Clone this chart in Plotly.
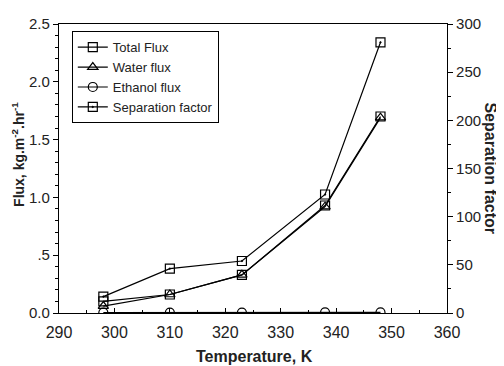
import plotly.graph_objects as go

temperature = [298, 310, 323, 338, 348]
total_flux = [0.10, 0.16, 0.33, 0.93, 1.70]
water_flux = [0.06, 0.16, 0.33, 0.92, 1.69]
ethanol_flux = [0.004, 0.003, 0.004, 0.005, 0.006]
separation_factor = [17, 46, 54, 123, 281]

x_ticks = [290, 300, 310, 320, 330, 340, 350, 360]
y_ticks = [0, 0.5, 1.0, 1.5, 2.0, 2.5]
y_ticklabels = ["0.0", ".5", "1.0", "1.5", "2.0", "2.5"]
y2_ticks = [0, 50, 100, 150, 200, 250, 300]

FONT = "Liberation Sans, Arial, sans-serif"
TXT = "#222"
line = dict(color="black", width=1.2)

fig = go.Figure()
fig.add_trace(go.Scatter(x=temperature, y=total_flux, name="Total Flux", mode="lines+markers",
                         line=line, marker=dict(symbol="square-open", size=9, color="black", line=dict(width=1.2))))
fig.add_trace(go.Scatter(x=temperature, y=water_flux, name="Water flux", mode="lines+markers",
                         line=line, marker=dict(symbol="triangle-up-open", size=9, color="black", line=dict(width=1.2))))
fig.add_trace(go.Scatter(x=temperature, y=ethanol_flux, name="Ethanol flux", mode="lines+markers",
                         line=line, marker=dict(symbol="circle-open", size=9, color="black", line=dict(width=1.2))))
fig.add_trace(go.Scatter(x=temperature, y=separation_factor, name="Separation factor", mode="lines+markers",
                         yaxis="y2", line=line,
                         marker=dict(symbol="square-open-dot", size=9, color="black", line=dict(width=1.2))))

fig.update_layout(
    width=504, height=366,
    margin=dict(l=51, r=65, t=16, b=61, autoexpand=False),
    paper_bgcolor="white", plot_bgcolor="white",
    font=dict(family=FONT, color=TXT, size=15),
    showlegend=True,
    legend=dict(x=0.033, y=0.975, xanchor="left", yanchor="top",
                bordercolor="black", borderwidth=1, bgcolor="white",
                font=dict(size=13), tracegroupgap=0, itemwidth=30),
    xaxis=dict(range=[290, 360], tickvals=x_ticks, ticks="inside", ticklen=5, tickwidth=1,
               tickcolor="black", showline=True, linecolor="black", linewidth=1.2, mirror=True,
               showgrid=False, zeroline=False, automargin=False, tickfont=dict(size=16),
               ticklabelstandoff=5,
               minor=dict(dtick=5, ticks="inside", ticklen=3, tickcolor="black")),
    yaxis=dict(range=[0, 2.5], tickvals=y_ticks, ticktext=y_ticklabels, ticks="outside",
               ticklen=5, tickcolor="black", showline=True, linecolor="black", linewidth=1.2,
               showgrid=False, zeroline=False, automargin=False, tickfont=dict(size=15),
               minor=dict(dtick=0.1, ticks="outside", ticklen=3, tickcolor="black")),
    yaxis2=dict(range=[0, 300], tickvals=y2_ticks, overlaying="y", side="right", ticks="outside",
                ticklen=5, tickcolor="black", showline=True, linecolor="black", linewidth=1.2,
                showgrid=False, zeroline=False, automargin=False, tickfont=dict(size=15),
                minor=dict(dtick=25, ticks="outside", ticklen=3, tickcolor="black")),
    annotations=[
        dict(text="<b>Separation factor</b>", textangle=90, x=1.111, y=0.5,
             xref="paper", yref="paper", xanchor="center", yanchor="middle",
             showarrow=False, font=dict(size=16, family=FONT, color=TXT)),
        dict(text="<b>Flux, kg.m<sup>-2</sup>.hr<sup>-1</sup></b>", textangle=-90, x=-0.106, y=0.55,
             xref="paper", yref="paper", xanchor="center", yanchor="middle",
             showarrow=False, font=dict(size=14, family=FONT, color=TXT)),
        dict(text="<b>Temperature, K</b>", x=0.505, y=-0.149,
             xref="paper", yref="paper", xanchor="center", yanchor="middle",
             showarrow=False, font=dict(size=16, family=FONT, color=TXT)),
    ],
)

fig.write_html("out.html")
